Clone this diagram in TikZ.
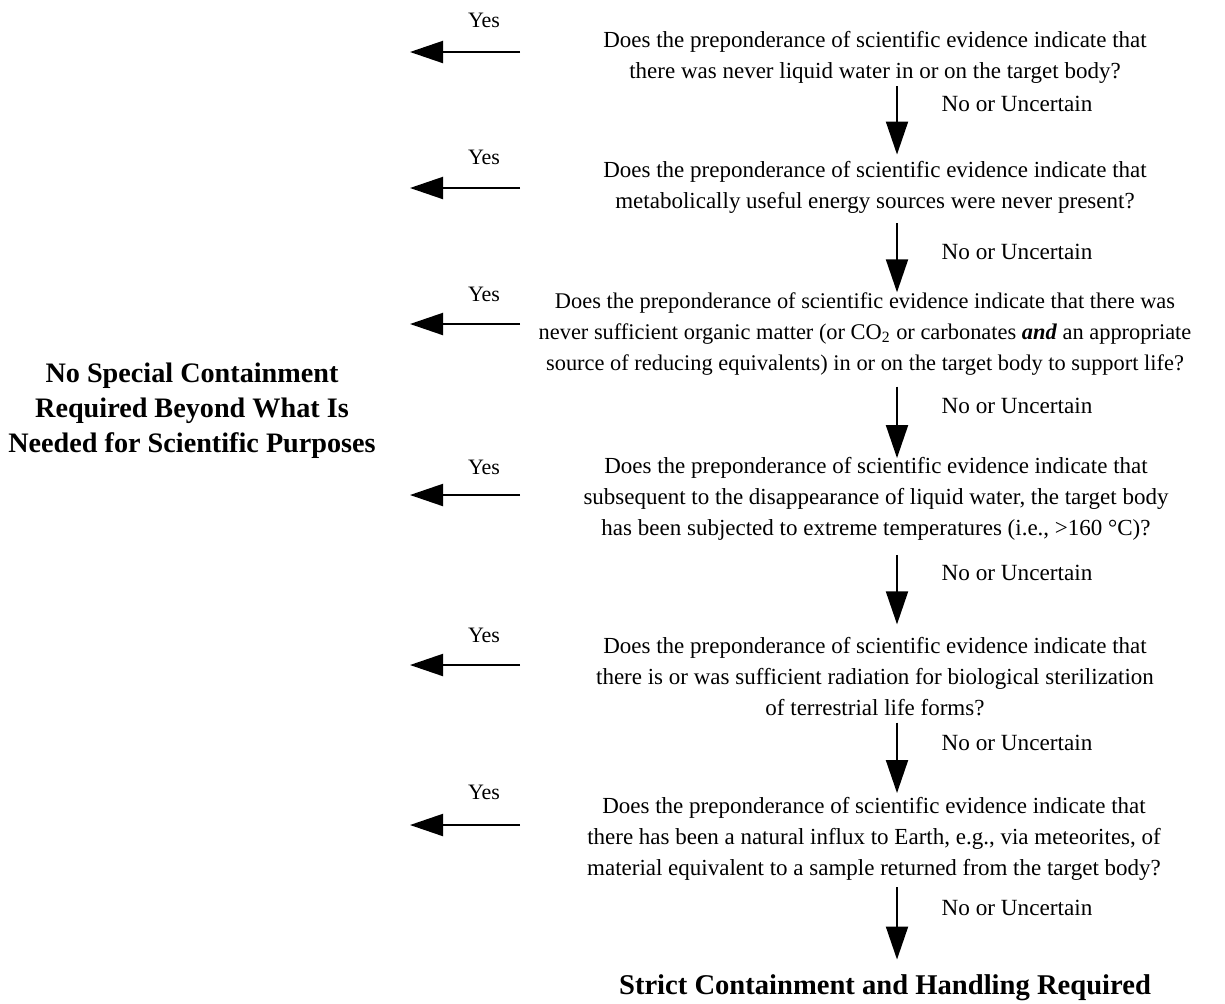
\documentclass[tikz,border=0pt]{standalone}
\usepackage{fontspec}
\setmainfont{Liberation Serif}
\usetikzlibrary{arrows.meta}
\begin{document}
\begin{tikzpicture}[x=0.5pt,y=-0.5pt,
  question/.style={align=center,font=\fontsize{11.5}{15.5}\selectfont,inner sep=3pt},
  yeslbl/.style={font=\fontsize{11}{13}\selectfont,inner sep=0pt},
  nolbl/.style={font=\fontsize{11.6}{13}\selectfont,inner sep=0pt},
  outcome/.style={align=center,font=\fontsize{14.1}{17.4}\selectfont\bfseries,inner sep=0pt},
  flow/.style={line width=1pt,-{Triangle[length=16.5pt,width=11pt]}}]
\useasboundingbox (0,0) rectangle (1225,1003);

\node[question] (q1) at (875,57) {Does the preponderance of scientific evidence indicate that\\there was never liquid water in or on the target body?};
\node[question] (q2) at (875,187) {Does the preponderance of scientific evidence indicate that\\metabolically useful energy sources were never present?};
\node[question,font=\fontsize{11.2}{15.5}\selectfont] (q3) at (865,334) {Does the preponderance of scientific evidence indicate that there was\\never sufficient organic matter (or CO\textsubscript{2} or carbonates \textbf{\textit{and}} an appropriate\\source of reducing equivalents) in or on the target body to support life?};
\node[question] (q4) at (876,499) {Does the preponderance of scientific evidence indicate that\\subsequent to the disappearance of liquid water, the target body\\has been subjected to extreme temperatures (i.e., >160 °C)?};
\node[question] (q5) at (875,677) {Does the preponderance of scientific evidence indicate that\\there is or was sufficient radiation for biological sterilization\\of terrestrial life forms?};
\node[question] (q6) at (874,839) {Does the preponderance of scientific evidence indicate that\\there has been a natural influx to Earth, e.g., via meteorites, of\\material equivalent to a sample returned from the target body?};
\node[outcome,font=\fontsize{14.3}{17.4}\selectfont\bfseries] (strict) at (885,988) {Strict Containment and Handling Required};
\node[outcome] (nospecial) at (192,411) {No Special Containment\\Required Beyond What Is\\Needed for Scientific Purposes};

\coordinate (ax) at (897,0);
\draw[flow,shorten <=-1.5pt] (q1.south -| ax) -- (q2.north -| ax);
\draw[flow,shorten <=2pt,shorten >=-3pt] (q2.south -| ax) -- (q3.north -| ax);
\draw[flow,shorten <=2.5pt,shorten >=-3.5pt] (q3.south -| ax) -- (q4.north -| ax);
\draw[flow,shorten <=4pt,shorten >=3.5pt] (q4.south -| ax) -- (q5.north -| ax);
\draw[flow,shorten >=-1pt] (q5.south -| ax) -- (q6.north -| ax);
\draw[flow,shorten >=7.5pt] (q6.south -| ax) -- (strict.north -| ax);

\foreach \y [count=\i] in {104,252,406,573,743,908}
  \node[nolbl] (no\i) at (1017,\y) {No or Uncertain};

\foreach \ay/\ly [count=\i] in {52/20,188/157,324/294,495/467,665/635,825/792}{
  \coordinate (ys\i) at (520,\ay);
  \coordinate (ye\i) at (410,\ay);
  \draw[flow] (ys\i) -- (ye\i);
  \node[yeslbl] (yes\i) at (484,\ly) {Yes};
}
\end{tikzpicture}
\end{document}
